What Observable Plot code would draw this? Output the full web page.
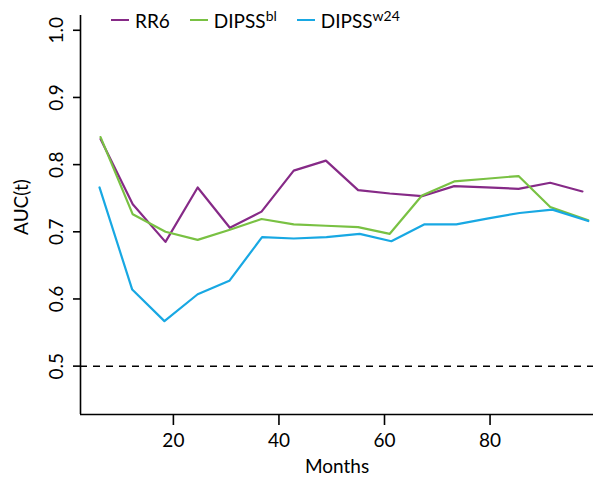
<!DOCTYPE html>
<html>
<head>
<meta charset="utf-8">
<script src="https://cdn.jsdelivr.net/npm/d3@7"></script>
<script src="https://cdn.jsdelivr.net/npm/@observablehq/plot@0.6"></script>
<style>
  body { margin: 0; background: #fff; }
  #wrap { position: relative; width: 596px; height: 479px; font-family: Lato, sans-serif; color: #000; }
  #legend { position: absolute; left: 111px; top: 11px; display: flex; gap: 20px; font-size: 19px; line-height: 20px; white-space: nowrap; }
  .item { display: flex; align-items: center; }
  .sw { width: 18px; height: 2px; margin-right: 6px; margin-top: -2px; }
  .item sup { font-size: 14px; vertical-align: 7px; line-height: 0; }
</style>
</head>
<body>
<div id="wrap"><div id="legend"></div></div>
<script>
// ---- data ----
const seriesNames = ["RR6", "DIPSSbl", "DIPSSw24"];
const seriesLabels = [["DIPSS", ""], ["DIPSS", "bl"], ["DIPSS", "w24"]];
const seriesColors = ["#862a87", "#79c143", "#18a8e3"];

const monthsRR6      = [6.2, 12.3, 18.5, 24.6, 30.7, 36.7, 42.8, 48.9, 55.0, 61.0, 67.1, 73.2, 79.3, 85.4, 91.4, 97.5];
const monthsDIPSSbl  = [6.2, 12.3, 18.5, 24.6, 30.7, 36.7, 42.8, 48.9, 55.0, 61.0, 67.1, 73.2, 79.3, 85.4, 91.4, 98.6];
const monthsDIPSSw24 = [6.0, 12.2, 18.3, 24.6, 30.6, 36.8, 42.8, 49.0, 55.3, 61.3, 67.5, 73.6, 79.7, 85.6, 91.8, 98.6];

const aucRR6      = [0.838, 0.741, 0.685, 0.766, 0.706, 0.730, 0.791, 0.806, 0.762, 0.757, 0.753, 0.768, 0.766, 0.764, 0.773, 0.760];
const aucDIPSSbl  = [0.841, 0.726, 0.700, 0.688, 0.703, 0.719, 0.711, 0.709, 0.707, 0.697, 0.754, 0.775, 0.779, 0.783, 0.737, 0.717];
const aucDIPSSw24 = [0.766, 0.614, 0.567, 0.607, 0.627, 0.692, 0.690, 0.692, 0.697, 0.686, 0.711, 0.711, 0.720, 0.728, 0.733, 0.716];

const xTicks = [20, 40, 60, 80];
const yTicks = [0.5, 0.6, 0.7, 0.8, 0.9, 1.0];
const xlim = [2.4, 99.6];
const ylim = [0.428, 1.022];
const refLine = [0.5];

// ---- build table ----
const monthsList = [monthsRR6, monthsDIPSSbl, monthsDIPSSw24];
const aucList = [aucRR6, aucDIPSSbl, aucDIPSSw24];
const rows = [];
seriesNames.forEach((name, s) => monthsList[s].forEach((m, i) => rows.push({series: name, month: m, auc: aucList[s][i]})));

const chart = Plot.plot({
  width: 596,
  height: 479,
  marginLeft: 80,
  marginRight: 3,
  marginTop: 15,
  marginBottom: 65,
  style: { fontFamily: "Lato, sans-serif", fontSize: "19px", color: "#000", background: "#fff" },
  x: { domain: xlim, label: null },
  y: { domain: ylim, label: null },
  color: { domain: seriesNames, range: seriesColors },
  marks: [
    Plot.ruleY(refLine, { stroke: "#000", strokeWidth: 1.5, strokeDasharray: "7,6" }),
    Plot.line(rows, { x: "month", y: "auc", z: "series", stroke: "series", strokeWidth: 2.2, clip: true }),
    Plot.ruleX([xlim[0]], { stroke: "#000", strokeWidth: 1.6 }),
    Plot.ruleY([ylim[0]], { stroke: "#000", strokeWidth: 1.6 }),
    Plot.axisX({ ticks: xTicks, tickSize: 11, tickPadding: 8, strokeWidth: 1.6, fontSize: 19 }),
    Plot.axisY({ ticks: yTicks, tickSize: 7, strokeWidth: 1.6, tickFormat: () => "" }),
    Plot.text(yTicks, { y: d => d, text: d => d.toFixed(1), frameAnchor: "left", dx: -24, rotate: -90, textAnchor: "middle", lineAnchor: "middle", fontSize: 19 }),
    Plot.text(["Months"], { text: d => d, frameAnchor: "bottom", dy: 52, lineAnchor: "middle", fontSize: 19 }),
    Plot.text(["AUC(t)"], { text: d => d, frameAnchor: "left", dx: -59, dy: -8, rotate: -90, textAnchor: "middle", lineAnchor: "middle", fontSize: 19 })
  ]
});
document.getElementById("wrap").appendChild(chart);

// ---- legend ----
const legend = document.getElementById("legend");
seriesNames.forEach((name, i) => {
  const item = document.createElement("div");
  item.className = "item";
  const sw = document.createElement("div");
  sw.className = "sw";
  sw.style.background = seriesColors[i];
  item.appendChild(sw);
  const label = document.createElement("span");
  if (i === 0) {
    label.textContent = name;
  } else {
    label.textContent = seriesLabels[i][0];
    const sup = document.createElement("sup");
    sup.textContent = seriesLabels[i][1];
    label.appendChild(sup);
  }
  item.appendChild(label);
  legend.appendChild(item);
});
</script>
</body>
</html>
